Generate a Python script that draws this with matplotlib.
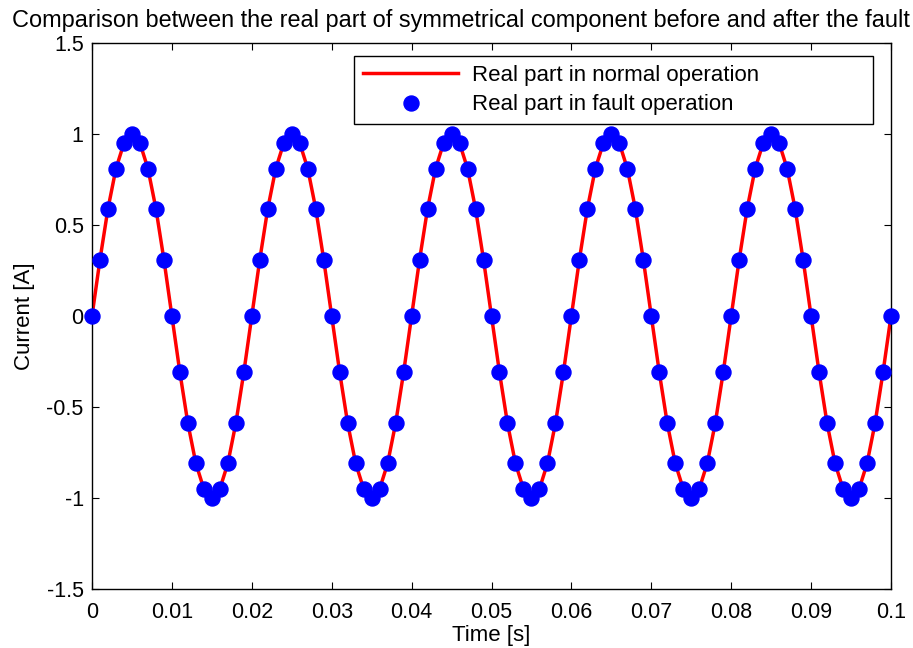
import matplotlib
matplotlib.use("Agg")
import matplotlib.pyplot as plt

plt.rcParams['font.family'] = ['Liberation Sans', 'DejaVu Sans']

time_s = [
    0.000, 0.001, 0.002, 0.003, 0.004, 0.005, 0.006, 0.007, 0.008, 0.009,
    0.010, 0.011, 0.012, 0.013, 0.014, 0.015, 0.016, 0.017, 0.018, 0.019,
    0.020, 0.021, 0.022, 0.023, 0.024, 0.025, 0.026, 0.027, 0.028, 0.029,
    0.030, 0.031, 0.032, 0.033, 0.034, 0.035, 0.036, 0.037, 0.038, 0.039,
    0.040, 0.041, 0.042, 0.043, 0.044, 0.045, 0.046, 0.047, 0.048, 0.049,
    0.050, 0.051, 0.052, 0.053, 0.054, 0.055, 0.056, 0.057, 0.058, 0.059,
    0.060, 0.061, 0.062, 0.063, 0.064, 0.065, 0.066, 0.067, 0.068, 0.069,
    0.070, 0.071, 0.072, 0.073, 0.074, 0.075, 0.076, 0.077, 0.078, 0.079,
    0.080, 0.081, 0.082, 0.083, 0.084, 0.085, 0.086, 0.087, 0.088, 0.089,
    0.090, 0.091, 0.092, 0.093, 0.094, 0.095, 0.096, 0.097, 0.098, 0.099,
    0.100,
]

normal_current = [
    0.00, 0.31, 0.59, 0.81, 0.95, 1.00, 0.95, 0.81, 0.59, 0.31,
    0.00, -0.31, -0.59, -0.81, -0.95, -1.00, -0.95, -0.81, -0.59, -0.31,
    0.00, 0.31, 0.59, 0.81, 0.95, 1.00, 0.95, 0.81, 0.59, 0.31,
    0.00, -0.31, -0.59, -0.81, -0.95, -1.00, -0.95, -0.81, -0.59, -0.31,
    0.00, 0.31, 0.59, 0.81, 0.95, 1.00, 0.95, 0.81, 0.59, 0.31,
    0.00, -0.31, -0.59, -0.81, -0.95, -1.00, -0.95, -0.81, -0.59, -0.31,
    0.00, 0.31, 0.59, 0.81, 0.95, 1.00, 0.95, 0.81, 0.59, 0.31,
    0.00, -0.31, -0.59, -0.81, -0.95, -1.00, -0.95, -0.81, -0.59, -0.31,
    0.00, 0.31, 0.59, 0.81, 0.95, 1.00, 0.95, 0.81, 0.59, 0.31,
    0.00, -0.31, -0.59, -0.81, -0.95, -1.00, -0.95, -0.81, -0.59, -0.31,
    0.00,
]

fault_current = [
    0.00, 0.31, 0.59, 0.81, 0.95, 1.00, 0.95, 0.81, 0.59, 0.31,
    0.00, -0.31, -0.59, -0.81, -0.95, -1.00, -0.95, -0.81, -0.59, -0.31,
    0.00, 0.31, 0.59, 0.81, 0.95, 1.00, 0.95, 0.81, 0.59, 0.31,
    0.00, -0.31, -0.59, -0.81, -0.95, -1.00, -0.95, -0.81, -0.59, -0.31,
    0.00, 0.31, 0.59, 0.81, 0.95, 1.00, 0.95, 0.81, 0.59, 0.31,
    0.00, -0.31, -0.59, -0.81, -0.95, -1.00, -0.95, -0.81, -0.59, -0.31,
    0.00, 0.31, 0.59, 0.81, 0.95, 1.00, 0.95, 0.81, 0.59, 0.31,
    0.00, -0.31, -0.59, -0.81, -0.95, -1.00, -0.95, -0.81, -0.59, -0.31,
    0.00, 0.31, 0.59, 0.81, 0.95, 1.00, 0.95, 0.81, 0.59, 0.31,
    0.00, -0.31, -0.59, -0.81, -0.95, -1.00, -0.95, -0.81, -0.59, -0.31,
    0.00,
]

x_ticks = [0, 0.01, 0.02, 0.03, 0.04, 0.05, 0.06, 0.07, 0.08, 0.09, 0.1]
x_tick_labels = ['0', '0.01', '0.02', '0.03', '0.04', '0.05', '0.06', '0.07', '0.08', '0.09', '0.1']
y_ticks = [-1.5, -1, -0.5, 0, 0.5, 1, 1.5]
y_tick_labels = ['-1.5', '-1', '-0.5', '0', '0.5', '1', '1.5']

W, H = 913, 648
fig = plt.figure(figsize=(W / 100, H / 100), dpi=100)
ax = fig.add_axes([92 / W, 1 - 589 / H, (891 - 92) / W, (589 - 43) / H])

ax.plot(time_s, normal_current, color='#ff0000', lw=2.5, label='Real part in normal operation', zorder=2)
ax.plot(time_s, fault_current, linestyle='none', marker='o', markersize=10.8,
        color='#0000ff', label='Real part in fault operation', zorder=3, clip_on=False)

ax.set_xlim(0, 0.1)
ax.set_ylim(-1.5, 1.5)
ax.set_xticks(x_ticks)
ax.set_xticklabels(x_tick_labels)
ax.set_yticks(y_ticks)
ax.set_yticklabels(y_tick_labels)
ax.tick_params(direction='in', length=5, width=0.8, labelsize=15.5, top=True, right=True)
ax.tick_params(axis='x', pad=9)
ax.tick_params(axis='y', pad=6)
for s in ax.spines.values():
    s.set_linewidth(1.0)

ax.set_xlabel('Time [s]', fontsize=16, labelpad=2)
ax.set_ylabel('Current [A]', fontsize=16, labelpad=8)
# title is shifted left so that it fits in the figure, as in the reference
fig.text(461 / W, 1 - 20 / H,
         'Comparison between the real part of symmetrical component before and after the fault',
         fontsize=16.9, ha='center', va='center')

# legend box spans roughly x 354..873 px, y 56..124 px in the figure
bx0 = (354 - 92) / (891 - 92)
bx1 = (873 - 92) / (891 - 92)
by1 = (589 - 56) / (589 - 43)
by0 = (589 - 124) / (589 - 43)
leg = ax.legend(loc='upper left', bbox_to_anchor=(bx0, by0, bx1 - bx0, by1 - by0),
                mode='expand', borderaxespad=0, fontsize=16, frameon=True, fancybox=False,
                edgecolor='black', framealpha=1, handlelength=4.3,
                borderpad=0.4, labelspacing=0.38, handletextpad=0.6)
leg.get_frame().set_linewidth(1.0)

fig.savefig('out.png', dpi=100)
